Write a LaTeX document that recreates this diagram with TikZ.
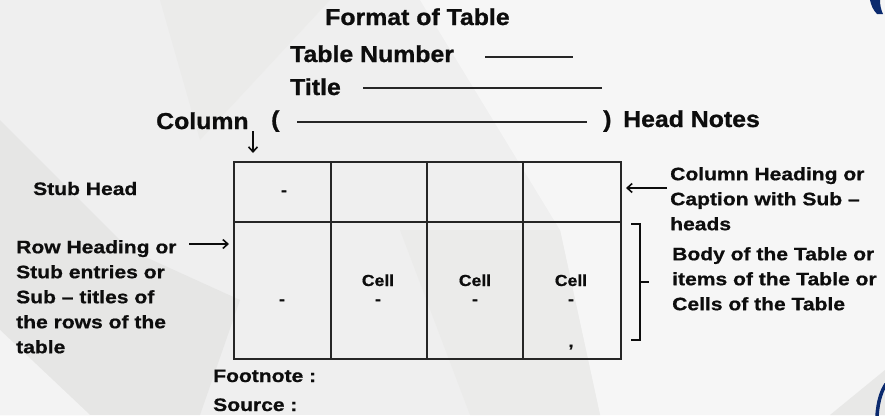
\documentclass[tikz,border=0pt]{standalone}
\usepackage{fontspec}
\usetikzlibrary{arrows.meta}
\newfontfamily\hfont[FakeStretch=1.08,FakeBold=1]{Liberation Sans Bold}
\newfontfamily\lfont[FakeStretch=1.17,FakeBold=0.8]{Liberation Sans Bold}
\newfontfamily\cfont[FakeStretch=1.1,FakeBold=0.8]{Liberation Sans Bold}
\definecolor{bgbase}{HTML}{EFEFEF}
\definecolor{bgdark}{HTML}{E6E6E5}
\definecolor{bglight}{HTML}{F6F6F6}
\definecolor{ink}{HTML}{0D0D0D}
\definecolor{rule}{HTML}{262626}
\definecolor{navy}{HTML}{0B2A6E}
\tikzset{
  headtxt/.style={font=\hfont\fontsize{23}{27}\selectfont, text=ink, inner sep=0pt, anchor=base west},
  labtxt/.style={font=\lfont\fontsize{18}{25}\selectfont, text=ink, inner sep=0pt, anchor=base west, align=left},
  celltxt/.style={font=\cfont\fontsize{16}{18}\selectfont, text=ink, inner sep=0pt},
  gridline/.style={draw=rule, line width=1.3pt},
  pointer/.style={draw=ink, line width=1.6pt, -{Straight Barb[length=5pt,width=9pt,line width=1.6pt]}},
  brace/.style={draw=ink, line width=1.6pt}
}
\begin{document}
\begin{tikzpicture}[x=1pt,y=-1pt]
% background
\fill[bgbase] (0,0) rectangle (885,415);
\fill[bglight] (420,0) -- (885,0) -- (885,415) -- (600,415) -- (560,230) -- cycle;
\fill[bgdark] (0,120) -- (130,250) -- (240,300) -- (200,415) -- (0,415) -- cycle;
\fill[bglight!60!bgbase] (0,330) -- (90,415) -- (0,415) -- cycle;
\fill[bgdark!50!bgbase] (160,0) -- (330,0) -- (200,140) -- cycle;
\fill[bgdark!50!bgbase] (400,230) -- (560,230) -- (600,415) -- (470,415) -- cycle;
\fill[bgdark!80!bgbase] (830,415) -- (885,370) -- (885,415) -- cycle;
\useasboundingbox (0,0) rectangle (885,415);
% corner decorations
\fill[navy] (870,0) -- (880,0) .. controls (880,5) and (881,10) .. (883,14) -- (877,14) .. controls (873,10) and (871,5) .. cycle;
\draw[navy, line width=3.5pt] (877,416) .. controls (878,400) and (882,390) .. (886,384);

% headings
\node[headtxt] (fmt) at (325,25) {Format of Table};
\node[headtxt] (tno) at (290,62) {Table Number};
\coordinate (tnoA) at (485,57);
\coordinate (tnoB) at (573,57);
\draw[rule, line width=1.3pt] (tnoA) -- (tnoB);
\node[headtxt] (ttl) at (290,95) {Title};
\coordinate (ttlA) at (363,88);
\coordinate (ttlB) at (602,88);
\draw[rule, line width=1.3pt] (ttlA) -- (ttlB);
\node[headtxt] (col) at (156,129) {Column};
\node[headtxt] (lp) at (271,127) {(};
\coordinate (hnA) at (297,122);
\coordinate (hnB) at (587,122);
\draw[rule, line width=1.3pt] (hnA) -- (hnB);
\node[headtxt] (rp) at (603,127) {)};
\node[headtxt] (hn) at (623,127) {Head Notes};
\coordinate (colA) at (253,131);
\coordinate (colB) at (253,153);
\draw[pointer] (colA) -- (colB);

% table
\coordinate (t00) at (234,162);
\coordinate (t11) at (621,359);
\draw[gridline] (t00) rectangle (t11);
\coordinate (m0) at (234,222);
\coordinate (m1) at (621,222);
\draw[gridline] (m0) -- (m1);
\foreach \x [count=\i] in {331,427,523} {
  \coordinate (ct\i) at (\x,162);
  \coordinate (cb\i) at (\x,359);
  \draw[gridline] (ct\i) -- (cb\i);
}
\node[celltxt] (d0) at (284,193) {-};
\node[celltxt] (d1) at (282,302) {-};
\node[celltxt, anchor=base] (c2) at (378,286) {Cell};
\node[celltxt] (d2) at (378,302) {-};
\node[celltxt, anchor=base] (c3) at (475,286) {Cell};
\node[celltxt] (d3) at (475,302) {-};
\node[celltxt, anchor=base] (c4) at (571,286) {Cell};
\node[celltxt] (d4) at (571,302) {-};
\node[celltxt] (cm) at (571,347) {,};

% left labels
\node[labtxt] (stub) at (33,195) {Stub Head};
\node[labtxt, anchor=north west] (rowh) at (16,240) {Row Heading or\\Stub entries or\\Sub – titles of\\the rows of the\\table};
\coordinate (rA) at (189,244);
\coordinate (rB) at (229,244);
\draw[pointer] (rA) -- (rB);

% right labels
\node[labtxt, anchor=north west] (colh) at (670,167) {Column Heading or\\Caption with Sub –\\heads};
\coordinate (cA) at (667,188);
\coordinate (cB) at (626,188);
\draw[pointer] (cA) -- (cB);
\node[labtxt, anchor=north west] (body) at (672,247) {Body of the Table or\\items of the Table or\\Cells of the Table};
\coordinate (bT) at (631,224);
\coordinate (bB) at (631,340);
\coordinate (bM) at (649,282);
\draw[brace] (bT) -| (640,340) -- (bB);
\draw[brace] (640,282) -- (bM);

% footer
\node[labtxt] (fn) at (213,382) {Footnote :};
\node[labtxt] (src) at (213,411) {Source :};
\end{tikzpicture}
\end{document}
